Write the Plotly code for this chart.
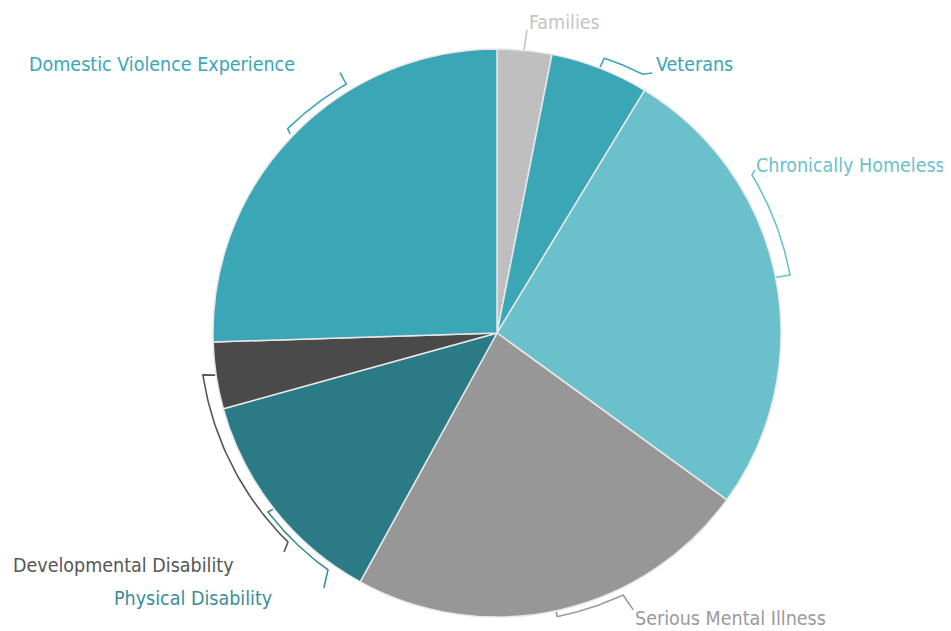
import numpy as np
import plotly.graph_objects as go

# ---- data ----
categories = ["Families", "Veterans", "Chronically Homeless", "Serious Mental Illness",
              "Physical Disability", "Developmental Disability", "Domestic Violence Experience"]
values = [3.1, 5.6, 26.3, 23.0, 12.7, 3.8, 25.5]

# ---- style ----
slice_colors = ["#bfbfbf", "#3ba6b5", "#6bc1cb", "#979797", "#2b7b86", "#4a4a4a", "#3aa6b6"]
label_colors = ["#c4c4c4", "#3ba6b5", "#6bc1cb", "#9a9a9a", "#3a8d99", "#555555", "#3aa6b6"]
W, H = 951, 631
OFF = 8  # page body margin offset
CX, CY, R = 497 - OFF, 333 - OFF, 284
FONT = "DejaVu Sans Condensed, Roboto, sans-serif"
FSIZE = 19.5

# label anchor (left x, middle y) in page pixels
label_pos = {
    "Families": (527, 22),
    "Veterans": (654, 64),
    "Chronically Homeless": (754, 165),
    "Serious Mental Illness": (633, 618),
    "Physical Disability": (112, 598),
    "Developmental Disability": (11, 565),
    "Domestic Violence Experience": (27, 64),
}
# connector polylines in polar form (angle clockwise from top [deg], radius [px]);
# segment between 2nd and 3rd points follows an arc
connectors = {
    "Families": [(5.45, 284.3), (5.65, 304.5)],
    "Veterans": [(21.2, 285), (21.3, 295), (29.4, 297), (30.8, 302.7)],
    "Chronically Homeless": [(78.7, 284.6), (78.8, 298.7), (58.2, 300), (57.7, 305)],
    "Serious Mental Illness": [(168.0, 285), (168.0, 290), (154.3, 290.7), (153.8, 308.6)],
    "Physical Disability": [(231.8, 285), (232.0, 290.7), (215.5, 291), (214.2, 308)],
    "Developmental Disability": [(261.5, 285), (261.9, 297), (225.0, 295.6), (224.2, 305.5)],
    "Domestic Violence Experience": [(313.9, 287), (314.3, 292.5), (328.8, 291), (328.9, 304)],
}


def polar_to_px(a, r):
    t = np.radians(a)
    return CX + r * np.sin(t), CY - r * np.cos(t)


fig = go.Figure()
fig.add_trace(go.Pie(
    labels=categories, values=values, sort=False, direction="clockwise", rotation=0,
    marker=dict(colors=slice_colors, line=dict(color="#e8e8e8", width=1.5)),
    textinfo="none", hoverinfo="label+value", showlegend=False,
    domain=dict(x=[(CX - R) / W, (CX + R) / W], y=[1 - (CY + R) / H, 1 - (CY - R) / H]),
))

for cat, col in zip(categories, label_colors):
    pts = connectors[cat]
    xs, ys = [], []
    if len(pts) == 4:
        seq = [pts[0]]
        n = 40
        for k in range(n + 1):
            f = k / n
            seq.append((pts[1][0] + f * (pts[2][0] - pts[1][0]), pts[1][1] + f * (pts[2][1] - pts[1][1])))
        seq.append(pts[3])
    else:
        seq = pts
    for a, r in seq:
        x, y = polar_to_px(a, r)
        xs.append(x)
        ys.append(y)
    fig.add_trace(go.Scatter(x=xs, y=ys, mode="lines", line=dict(color=col, width=1.6),
                             hoverinfo="skip", showlegend=False))
    lx, ly = label_pos[cat]
    fig.add_annotation(x=lx - OFF, y=ly - OFF, xref="x", yref="y", text=cat, showarrow=False,
                       xanchor="left", yanchor="middle",
                       font=dict(family=FONT, size=FSIZE, color=col))

fig.update_layout(
    width=W, height=H, margin=dict(l=0, r=0, t=0, b=0),
    paper_bgcolor="white", plot_bgcolor="rgba(0,0,0,0)",
    xaxis=dict(range=[0, W], visible=False, domain=[0, 1], fixedrange=True),
    yaxis=dict(range=[H, 0], visible=False, domain=[0, 1], fixedrange=True),
)
fig.write_html("out.html")
